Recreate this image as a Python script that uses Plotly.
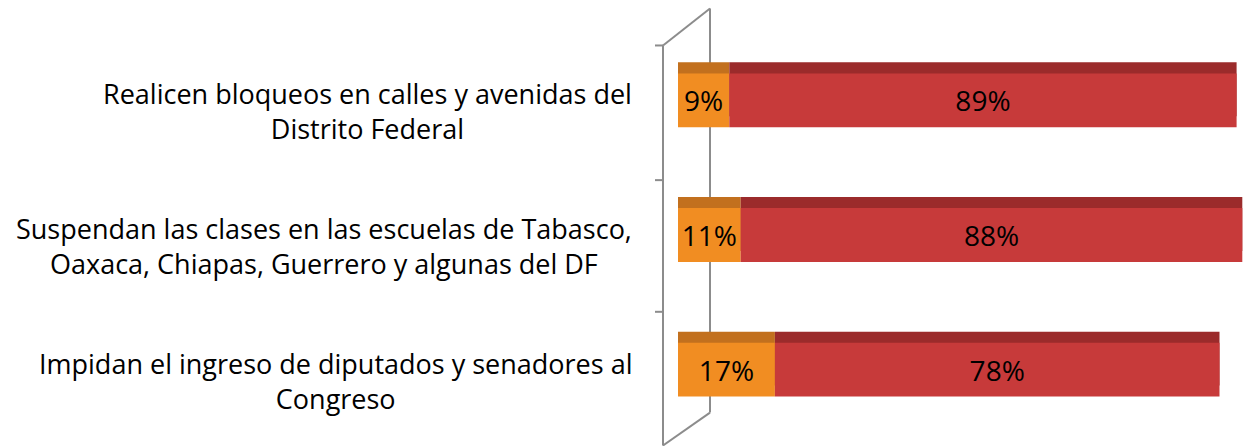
import plotly.graph_objects as go

categories = [
    "Realicen bloqueos en calles y avenidas del<br>Distrito Federal",
    "Suspendan las clases en las escuelas de Tabasco,<br>Oaxaca, Chiapas, Guerrero y algunas del DF",
    "Impidan el ingreso de diputados y senadores al<br>Congreso",
]
orange_vals = [9, 11, 17]
red_vals = [89, 88, 78]

W, H = 1259, 446
L, R = 678, 1248
T, B = 32.5, 437.5

FONT = "Open Sans"
ORANGE = "#F18D22"
ORANGE_TOP = "#C2701E"
RED = "#C73A3A"
RED_TOP = "#9B2B2B"

fig = go.Figure()
bw = 0.4
top = 0.082

# top faces (behind)
fig.add_trace(go.Bar(y=categories, x=orange_vals, base=[0] * len(orange_vals), orientation="h",
                     width=bw, offset=-bw / 2 - top, marker=dict(color=ORANGE_TOP, line=dict(width=0)),
                     hoverinfo="skip", showlegend=False))
fig.add_trace(go.Bar(y=categories, x=red_vals, base=orange_vals, orientation="h",
                     width=bw, offset=-bw / 2 - top, marker=dict(color=RED_TOP, line=dict(width=0)),
                     hoverinfo="skip", showlegend=False))
# front faces
fig.add_trace(go.Bar(y=categories, x=orange_vals, base=[0] * len(orange_vals), orientation="h",
                     width=bw, offset=-bw / 2, marker=dict(color=ORANGE, line=dict(width=0)),
                     text=[f"{v}%" for v in orange_vals], textposition="inside",
                     insidetextanchor="middle", constraintext="none",
                     textfont=dict(family=FONT, size=28, color="black"), showlegend=False))
fig.add_trace(go.Bar(y=categories, x=red_vals, base=orange_vals, orientation="h",
                     width=bw, offset=-bw / 2, marker=dict(color=RED, line=dict(width=0)),
                     text=[f"{v}%" for v in red_vals], textposition="inside",
                     insidetextanchor="middle", constraintext="none",
                     textfont=dict(family=FONT, size=28, color="black"), showlegend=False))

def px(x):
    return (x - L) / (R - L)

def py(y):
    return (B - y) / (B - T)

line = dict(color="#8C8C8C", width=2)
shapes = [
    dict(type="line", xref="paper", yref="paper", x0=px(663), y0=py(45), x1=px(663), y1=py(446), line=line, layer="below"),
    dict(type="line", xref="paper", yref="paper", x0=px(710), y0=py(8), x1=px(710), y1=py(413), line=line, layer="below"),
    dict(type="line", xref="paper", yref="paper", x0=px(663), y0=py(45), x1=px(710), y1=py(8), line=line, layer="below"),
    dict(type="line", xref="paper", yref="paper", x0=px(663), y0=py(446), x1=px(710), y1=py(413), line=line, layer="below"),
]
for ty in [45, 180, 312]:
    shapes.append(dict(type="line", xref="paper", yref="paper", x0=px(655), y0=py(ty), x1=px(663), y1=py(ty),
                       line=line, layer="below"))

annotations = []
for c in categories:
    annotations.append(dict(xref="paper", yref="y", x=px(634), y=c, xanchor="right", yanchor="middle",
                            text=c, align="center", showarrow=False, yshift=-11,
                            font=dict(family=FONT, size=27, color="black")))

fig.update_layout(
    width=W, height=H,
    margin=dict(l=L, r=W - R, t=T, b=H - B, pad=0),
    barmode="overlay",
    plot_bgcolor="white", paper_bgcolor="white",
    xaxis=dict(range=[0, 100], visible=False, fixedrange=True),
    yaxis=dict(type="category", autorange="reversed", showticklabels=False, showgrid=False,
               zeroline=False, showline=False, ticks="", fixedrange=True),
    shapes=shapes, annotations=annotations,
    font=dict(family=FONT),
)

fig.write_html("out.html", config={"displayModeBar": False},
               post_script="document.body.style.margin='0px';document.body.style.overflow='hidden';")
